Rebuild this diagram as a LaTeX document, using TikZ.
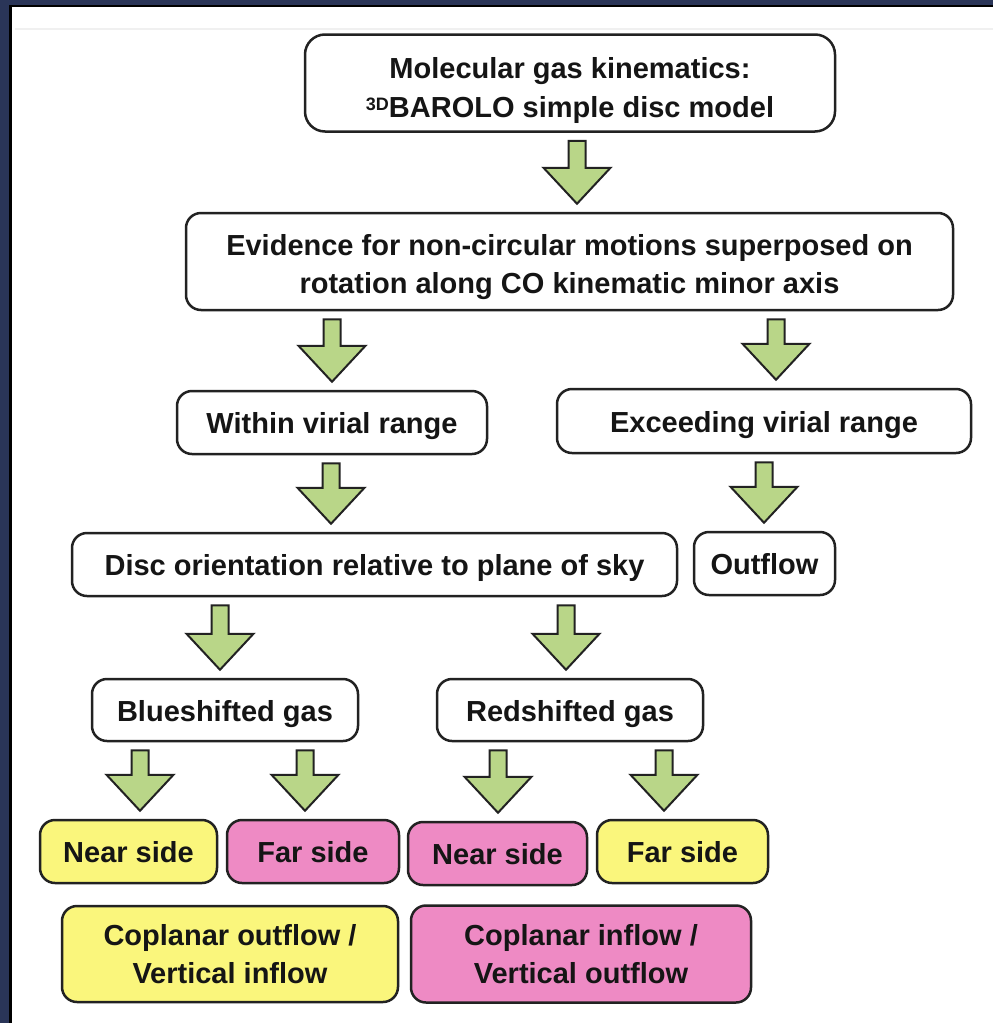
\documentclass[tikz,border=0pt]{standalone}
\usepackage{fontspec}
\setmainfont{Liberation Sans}
\usetikzlibrary{calc}
\definecolor{navy}{HTML}{2A3558}
\definecolor{boxline}{HTML}{222222}
\definecolor{textc}{HTML}{151515}
\definecolor{yellowc}{HTML}{FAF67C}
\definecolor{pinkc}{HTML}{EE8AC4}
\definecolor{greenc}{HTML}{B9D688}
\definecolor{faint}{HTML}{F0F0F0}
\tikzset{
  box/.style={draw=boxline, line width=2.5pt, rounded corners=15pt, fill=white,
    align=center, font=\bfseries\fontsize{29}{38}\selectfont, text=textc, inner sep=0pt},
  one/.style={box, text height=22pt, text depth=0pt},
  yel/.style={one, fill=yellowc},
  pnk/.style={one, fill=pinkc},
  yel2/.style={box, fill=yellowc},
  pnk2/.style={box, fill=pinkc},
  barrow/.style={draw=boxline, line width=2pt, fill=greenc, line join=miter},
}
\newcommand\dropby[2]{\raisebox{-#1}[\height][\depth]{\begin{tabular}{@{}c@{}}#2\end{tabular}}}
\newcommand\blockarrow[3]{%
  \draw[barrow] let \p1=(#1.south), \p2=(#2.north), \p3=(#3,0) in
    (\x3-8.5pt,\y1-8pt) -- (\x3+8.5pt,\y1-8pt) -- (\x3+8.5pt,\y2+44pt)
    -- (\x3+33.5pt,\y2+44pt) -- (\x3,\y2+8pt) -- (\x3-33.5pt,\y2+44pt)
    -- (\x3-8.5pt,\y2+44pt) -- cycle;}
\begin{document}
\begin{tikzpicture}[x=1pt,y=-1pt]
\useasboundingbox (0,0) rectangle (993,1023);
\fill[navy] (0,0) rectangle (993,1023);
\fill[black] (9,5) rectangle (993,1023);
\fill[white] (12,7) rectangle (993,1023);
\draw[faint, line width=1.5pt] (15,29) -- (993,29);

\node[box, rounded corners=20pt, minimum width=530pt, minimum height=97pt,
      font=\bfseries\fontsize{29}{39}\selectfont] (top) at (570,83)
  {\dropby{7pt}{Molecular gas kinematics:\\\raisebox{7pt}{\fontsize{18}{18}\selectfont 3D}BAROLO simple disc model}};
\node[box, minimum width=767pt, minimum height=97pt] (evid) at (569.5,261.5)
  {\dropby{5pt}{Evidence for non-circular motions superposed on\\rotation along CO kinematic minor axis}};
\node[one, minimum width=310pt, minimum height=63pt] (within) at (332,422.5) {Within virial range};
\node[one, minimum width=414pt, minimum height=64pt] (exceed) at (764,421) {Exceeding virial range};
\node[one, minimum width=605pt, minimum height=63pt] (disc) at (374.5,564.5) {Disc orientation relative to plane of sky};
\node[one, minimum width=141pt, minimum height=63pt] (outflow) at (764.5,563.5) {Outflow};
\node[one, minimum width=266pt, minimum height=62pt] (blue) at (225,710) {Blueshifted gas};
\node[one, minimum width=266pt, minimum height=62pt] (red) at (570,710) {Redshifted gas};
\node[yel, minimum width=177pt, minimum height=63pt] (ns1) at (128.5,851.5) {Near side};
\node[pnk, minimum width=172pt, minimum height=63pt] (fs1) at (313,851.5) {Far side};
\node[pnk, minimum width=179pt, minimum height=63pt] (ns2) at (497.5,853.5) {Near side};
\node[yel, minimum width=171pt, minimum height=63pt] (fs2) at (682.5,851.5) {Far side};
\node[yel2, minimum width=336pt, minimum height=96pt] (cop1) at (230,954) {Coplanar outflow /\\Vertical inflow};
\node[pnk2, minimum width=340pt, minimum height=97pt] (cop2) at (581,954) {Coplanar inflow /\\Vertical outflow};

\blockarrow{top}{evid}{577}
\blockarrow{evid}{within}{332}
\blockarrow{evid}{exceed}{776}
\blockarrow{within}{disc}{331}
\blockarrow{exceed}{outflow}{764}
\blockarrow{disc}{blue}{220}
\blockarrow{disc}{red}{566}
\blockarrow{blue}{ns1}{140}
\blockarrow{blue}{fs1}{305}
\blockarrow{red}{ns2}{498}
\blockarrow{red}{fs2}{664}
\end{tikzpicture}
\end{document}
